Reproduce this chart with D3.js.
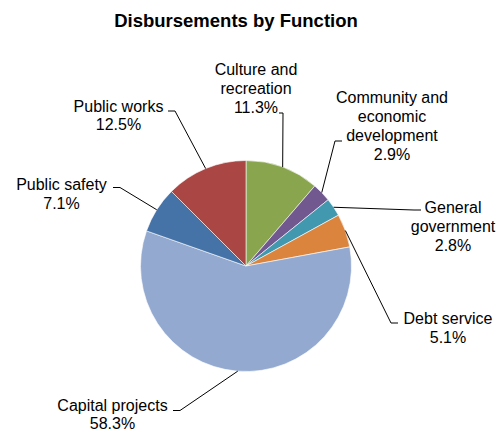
<!DOCTYPE html>
<html>
<head>
<meta charset="utf-8">
<script src="https://cdn.jsdelivr.net/npm/d3@7"></script>
<style>
  html, body { margin: 0; padding: 0; background: #fff; }
  svg { display: block; font-family: "Liberation Sans", Arial, sans-serif; }
</style>
</head>
<body>
<svg id="chart" width="501" height="433"></svg>
<script>
// data
const categories = ["Culture and recreation", "Community and economic development", "General government",
  "Debt service", "Capital projects", "Public safety", "Public works"];
const shares = [11.3, 2.9, 2.8, 5.1, 58.3, 7.1, 12.5];
const colors = ["#89A54E", "#71588F", "#4198AF", "#DB843D", "#93A9CF", "#4572A7", "#AA4643"];

// label layout: wrapped lines, text centre x, first baseline y, leader elbow points
const labelLayout = [
  { lines: ["Culture and", "recreation"], x: 256, y: 75, path: [[283, 113], [279, 113]] },
  { lines: ["Community and", "economic", "development"], x: 392, y: 103, path: [[335, 141], [342, 141]] },
  { lines: ["General", "government"], x: 453, y: 212.5, path: [[414, 210], [421, 210]] },
  { lines: ["Debt service"], x: 448, y: 324, path: [[391, 323], [398, 323]] },
  { lines: ["Capital projects"], x: 112.5, y: 410.5, path: [[180, 410.5], [173, 410.5]] },
  { lines: ["Public safety"], x: 61.5, y: 190, path: [[120, 187.5], [113, 187.5]] },
  { lines: ["Public works"], x: 118.5, y: 111.5, path: [[175, 111], [168, 111]] }
];

const CX = 246, CY = 266, R = 105.5, LH = 19;

const svg = d3.select("#chart");

svg.append("text")
  .attr("x", 236).attr("y", 27)
  .attr("text-anchor", "middle")
  .attr("font-size", "18.5px").attr("font-weight", "bold")
  .attr("fill", "#000")
  .text("Disbursements by Function");

const rows = categories.map((c, i) => ({ name: c, value: shares[i], color: colors[i], layout: labelLayout[i] }));

const pie = d3.pie().sort(null).value((d) => d.value);
const arcs = pie(rows);
const arc = d3.arc().innerRadius(0).outerRadius(R);
const edge = d3.arc().innerRadius(R).outerRadius(R);

const g = svg.append("g").attr("transform", `translate(${CX},${CY})`);
g.selectAll("path.slice")
  .data(arcs)
  .join("path")
  .attr("class", "slice")
  .attr("d", arc)
  .attr("fill", (d) => d.data.color)
  .attr("stroke", "#fff")
  .attr("stroke-width", 0.6);

// leader lines
const line = d3.line();
svg.append("g")
  .selectAll("path")
  .data(arcs)
  .join("path")
  .attr("d", (d) => {
    const [ex, ey] = edge.centroid(d);
    return line([[CX + ex, CY + ey], ...d.data.layout.path]);
  })
  .attr("fill", "none")
  .attr("stroke", "#000")
  .attr("stroke-width", 1);

// labels
const lbl = svg.append("g")
  .selectAll("text")
  .data(arcs)
  .join("text")
  .attr("text-anchor", "middle")
  .attr("font-size", "16px")
  .attr("fill", "#000");

lbl.each(function (d) {
  const t = d3.select(this);
  const L = d.data.layout;
  const allLines = [...L.lines, d3.format(".1f")(d.data.value) + "%"];
  allLines.forEach((s, k) => {
    t.append("tspan").attr("x", L.x).attr("y", L.y + k * (k === allLines.length - 1 && L.lines.length === 1 ? 18.5 : LH)).text(s);
  });
});
</script>
</body>
</html>
